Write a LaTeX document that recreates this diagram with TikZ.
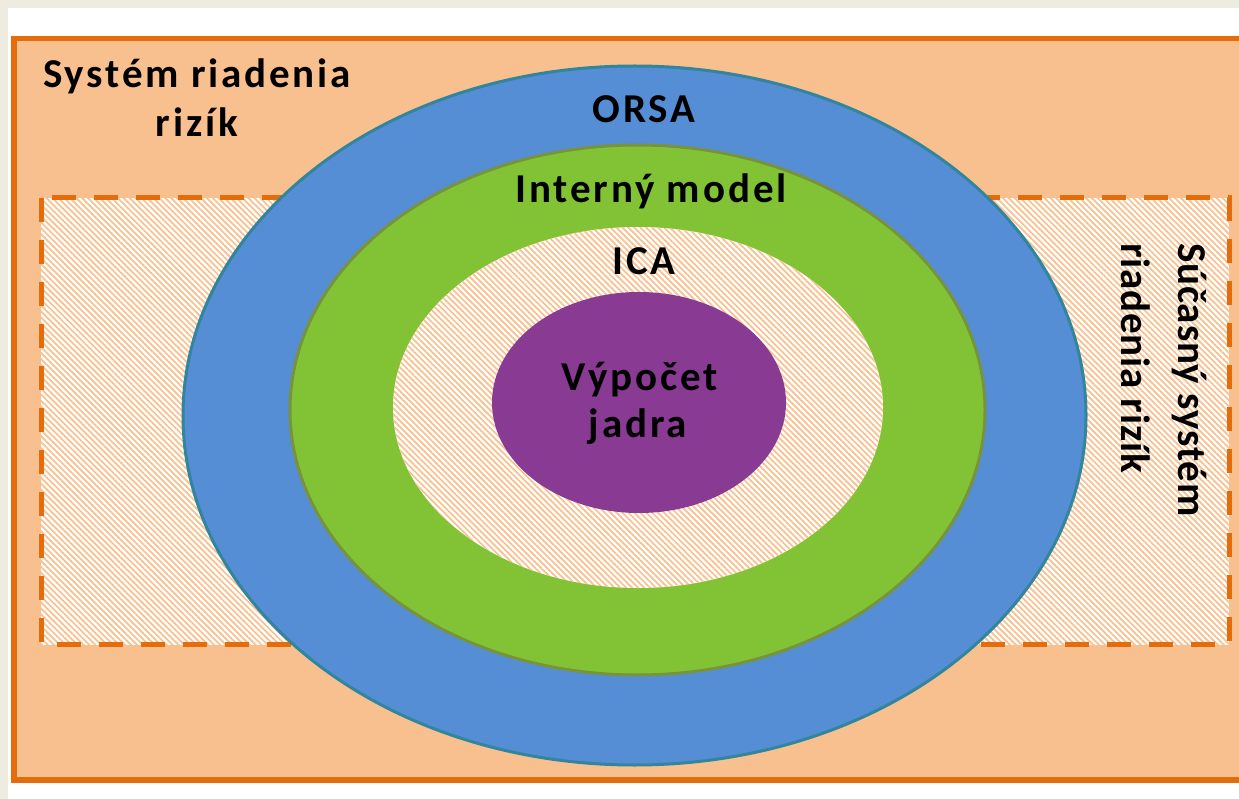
\documentclass[tikz,border=0pt]{standalone}
\usepackage{fontspec}
\setmainfont{Carlito}[LetterSpace=7]
\newfontfamily\rotfont{Carlito}[LetterSpace=2]
\usetikzlibrary{shapes.geometric,patterns.meta}
\definecolor{pagebg}{HTML}{EEEBE1}
\definecolor{orgline}{HTML}{E46C0A}
\definecolor{orgfill}{HTML}{F9C08F}
\definecolor{hatch}{HTML}{F9BF8D}
\definecolor{blufill}{HTML}{558ED5}
\definecolor{bluline}{HTML}{31859C}
\definecolor{grnfill}{HTML}{82C336}
\definecolor{grnline}{HTML}{77933C}
\definecolor{purfill}{HTML}{893A93}
\begin{document}
\begin{tikzpicture}[x=1pt,y=-1pt,
  lbl/.style={font=\fontsize{41}{49}\selectfont\bfseries, inner sep=0pt, anchor=base},
  rlbl/.style={font=\rotfont\fontsize{41}{49}\selectfont\bfseries, inner sep=0pt, rotate=-90, anchor=base west},
  hatched/.style={preaction={fill=white}, preaction={pattern={Lines[angle=-45,distance=4.2pt,line width=1.7pt]}, pattern color=hatch}},
  frameline/.style={orgline, line width=5.5pt},
  ring/.style={ellipse, inner sep=0pt, outer sep=0pt}]
\useasboundingbox (0,0) rectangle (1239,799);
\fill[pagebg] (0,0) rectangle (1239,799);
\fill[white] (8,8) rectangle (1239,799);
% outer frame (its right side lies past the picture edge)
\fill[orgfill] (11.25,35.75) rectangle (1239,782.75);
\fill[orgline] (11.25,35.75) rectangle (1239,41.25);
\fill[orgline] (11.25,35.75) rectangle (16.75,782.75);
\fill[orgline] (11.25,777.25) rectangle (1239,782.75);
% dashed hatched band
\path[hatched] (41,198) rectangle (1229,644.5);
\draw[orgline, line width=5pt, dash pattern=on 24pt off 18pt] (41,198) rectangle (1229,644.5);
% ellipses
\node[ring, draw=bluline, fill=blufill, line width=3pt, minimum width=903pt, minimum height=699pt] (orsa) at (634.5,415.5) {};
\node[ring, draw=grnline, fill=grnfill, line width=3pt, minimum width=695pt, minimum height=530pt] (intm) at (637.5,410) {};
\node[ring, hatched, minimum width=490pt, minimum height=361pt] (ica) at (638,407.5) {};
\node[ring, fill=purfill, minimum width=294pt, minimum height=221pt] (core) at (639,402.5) {};
% labels
\node[lbl] (t1a) at (197,88) {Systém riadenia};
\node[lbl] (t1b) at (197,137) {rizík};
\node[lbl] (torsa) at (644,123) {ORSA};
\node[lbl] (tint) at (651,203) {Interný model};
\node[lbl] (tica) at (644,275) {ICA};
\node[lbl] (tc1) at (640,390) {Výpočet};
\node[lbl] (tc2) at (638,437) {jadra};
\node[rlbl] (tr1) at (1178,243) {Súčasný systém};
\node[rlbl] (tr2) at (1121,243) {riadenia rizík};
\end{tikzpicture}
\end{document}
